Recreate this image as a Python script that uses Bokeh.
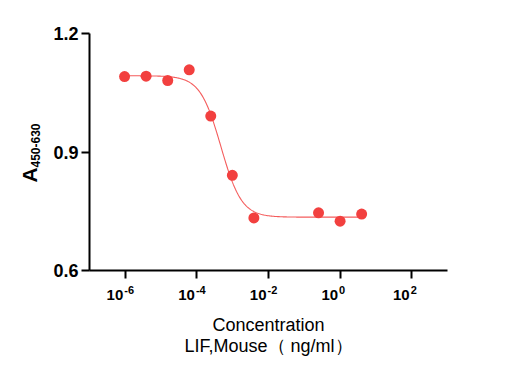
import numpy as np
from bokeh.plotting import figure
from bokeh.models import FixedTicker, Label, LabelSet, ColumnDataSource, Range1d
from bokeh.core.properties import value
from bokeh.embed import file_html
from bokeh.resources import INLINE

# ---- data ----
conc = [9.54e-7, 3.81e-6, 1.53e-5, 6.10e-5, 2.44e-4, 9.77e-4, 3.91e-3, 0.25, 1.0, 4.0]
absorb = [1.091, 1.092, 1.081, 1.108, 0.991, 0.841, 0.733, 0.746, 0.725, 0.743]

# 4PL fit parameters (estimated from the drawn curve)
fit_top = 1.093
fit_bottom = 0.735
fit_log_ec50 = -3.33
fit_hill = 1.5

x_ticks = [1e-6, 1e-4, 1e-2, 1e0, 1e2]
x_tick_exp = ["-6", "-4", "-2", "0", "2"]
y_ticks = [0.6, 0.9, 1.2]
x_axis_min, x_axis_max = 1e-7, 1e3
y_axis_min, y_axis_max = 0.6, 1.2

# ---- layout (pixels) ----
W, H = 505, 375
AX_L, AX_R, AX_T, AX_B = 89, 447, 33, 270   # axis box in canvas pixels

lx0, lx1 = np.log10(x_axis_min), np.log10(x_axis_max)
ppd = (AX_R - AX_L) / (lx1 - lx0)
xr = Range1d(10 ** (lx0 - AX_L / ppd), 10 ** (lx1 + (W - AX_R) / ppd))
ppu = (AX_B - AX_T) / (y_axis_max - y_axis_min)
yr = Range1d(y_axis_min - (H - AX_B) / ppu, y_axis_max + AX_T / ppu)

FONT = "Liberation Sans"
RED = "#F2403F"

p = figure(width=W, height=H, x_axis_type="log", x_range=xr, y_range=yr,
           output_backend="svg", toolbar_location=None,
           min_border=0)
p.outline_line_color = None
p.grid.visible = False
p.background_fill_color = "white"
p.border_fill_color = "white"

# fitted curve
lx = np.linspace(np.log10(conc[0]), np.log10(conc[-1]), 300)
ly = fit_bottom + (fit_top - fit_bottom) / (1 + 10 ** ((lx - fit_log_ec50) * fit_hill))
p.line(10 ** lx, ly, line_color=RED, line_width=1.1, line_alpha=0.85)

# points
p.scatter(conc, absorb, size=11, fill_color=RED, line_color=RED, line_width=0)

# axes drawn at fixed locations inside the frame
xa, ya = p.xaxis[0], p.yaxis[0]
xa.fixed_location = y_axis_min
ya.fixed_location = x_axis_min
xa.bounds = (x_axis_min, x_axis_max)
ya.bounds = (y_axis_min, y_axis_max)
for ax in (xa, ya):
    ax.axis_line_width = 2
    ax.axis_line_color = "black"
    ax.major_tick_line_width = 2
    ax.major_tick_line_color = "black"
    ax.major_tick_out = 8
    ax.major_tick_in = 0
    ax.minor_tick_line_color = None

xa.ticker = FixedTicker(ticks=x_ticks)
xa.major_label_text_font_size = "0px"
xa.major_label_text_color = None

ya.ticker = FixedTicker(ticks=y_ticks)
ya.major_label_text_font = FONT
ya.major_label_text_font_style = "bold"
ya.major_label_text_font_size = "18px"
ya.major_label_text_color = "black"
ya.major_label_standoff = 3

# x tick labels as 10 + superscript exponent
src = ColumnDataSource(dict(x=x_ticks, y=[y_axis_min] * len(x_ticks),
                            base=["10"] * len(x_ticks), exp=x_tick_exp))
p.add_layout(LabelSet(x="x", y="y", text="base", source=src,
                      x_offset=-2, y_offset=-29, text_align="right",
                      text_baseline="alphabetic", text_font=value(FONT),
                      text_font_style="bold", text_font_size="15px",
                      text_color="black"))
p.add_layout(LabelSet(x="x", y="y", text="exp", source=src,
                      x_offset=-1, y_offset=-23, text_align="left",
                      text_baseline="alphabetic", text_font=value(FONT),
                      text_font_style="bold", text_font_size="11px",
                      text_color="black"))

# x axis title (two lines)
xmid = 10 ** ((lx0 + lx1) / 2)
p.add_layout(Label(x=xmid, y=y_axis_min, y_offset=-54, text="Concentration",
                   text_align="center", text_baseline="alphabetic",
                   text_font=FONT, text_font_size="18px", text_color="black"))
p.add_layout(Label(x=xmid, y=y_axis_min, y_offset=-75, text="LIF,Mouse（ ng/ml）",
                   text_align="center", text_baseline="alphabetic",
                   text_font=FONT, text_font_size="18px", text_color="black"))

# y axis title: A with subscript 450-630
p.add_layout(Label(x=x_axis_min, y=y_axis_min, x_offset=-60, y_offset=88, text="A",
                   angle=np.pi / 2, text_align="left", text_baseline="alphabetic",
                   text_font=FONT, text_font_style="bold", text_font_size="21px",
                   text_color="black"))
p.add_layout(Label(x=x_axis_min, y=y_axis_min, x_offset=-54, y_offset=103, text="450-630",
                   angle=np.pi / 2, text_align="left", text_baseline="alphabetic",
                   text_font=FONT, text_font_style="bold", text_font_size="12px",
                   text_color="black"))

open("out.html", "w").write(file_html(p, INLINE))
